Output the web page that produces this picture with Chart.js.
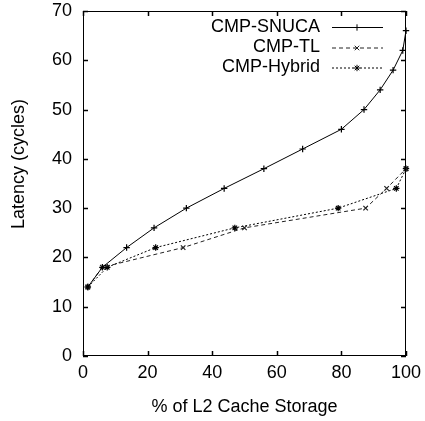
<!DOCTYPE html>
<html>
<head>
  <meta charset="utf-8">
  <title>L2 Cache Latency</title>
  <script src="https://cdn.jsdelivr.net/npm/chart.js"></script>
  <style>
    body { margin: 0; background: #fff; }
    #latencyChart { display: block; }
  </style>
</head>
<body>
  <canvas id="latencyChart" width="425" height="421"></canvas>

  <script>
    // values
    var snucaX = [1.5, 6, 13.5, 22, 32, 43.7, 56, 68, 80, 87, 92, 96, 99, 100];
    var snucaY = [14, 18, 22, 26, 30, 34, 38, 42, 46, 50, 54, 58, 62, 66];
    var tlX = [1.5, 6, 31, 50, 87.5, 94, 100];
    var tlY = [14, 18, 22, 26, 30, 34, 38];
    var hybridX = [1.5, 7.5, 22.5, 47, 79, 97, 100];
    var hybridY = [14, 18, 22, 26, 30, 34, 38];
    var seriesNames = ["CMP-SNUCA", "CMP-TL", "CMP-Hybrid"];
    var xTitle = "% of L2 Cache Storage";
    var yTitle = "Latency (cycles)";

    var FONT = "18px 'Liberation Sans', Arial, sans-serif";

    function pts(xs, ys) {
      return xs.map(function (x, i) { return { x: x, y: ys[i] }; });
    }

    function ds(label, data, dash, style, color) {
      return {
        label: label, data: data,
        borderColor: color, backgroundColor: color,
        borderWidth: 1, borderDash: dash,
        pointStyle: style, pointRadius: 3.2, pointBorderWidth: 1.2,
        pointBorderColor: color,
        tension: 0, clip: false, fill: false
      };
    }

    // gnuplot style frame, inward ticks, titles and key
    var gnuFrame = {
      id: "gnuFrame",
      afterDraw: function (chart) {
        var c = chart.ctx, a = chart.chartArea;
        var xs = chart.scales.x, ys = chart.scales.y;
        c.save();
        c.strokeStyle = "#000";
        c.lineWidth = 1;
        c.setLineDash([]);
        c.strokeRect(a.left + 0.5, a.top + 0.5, a.right - a.left - 1, a.bottom - a.top - 1);
        c.beginPath();
        c.lineWidth = 1.5;
        xs.ticks.forEach(function (t) {
          var px = Math.round(xs.getPixelForValue(t.value)) + 0.5;
          c.moveTo(px, a.bottom); c.lineTo(px, a.bottom - 5);
          c.moveTo(px, a.top); c.lineTo(px, a.top + 5);
        });
        ys.ticks.forEach(function (t) {
          var py = Math.round(ys.getPixelForValue(t.value)) + 0.5;
          c.moveTo(a.left, py); c.lineTo(a.left + 5, py);
          c.moveTo(a.right, py); c.lineTo(a.right - 5, py);
        });
        c.stroke();
        c.lineWidth = 1;

        // axis titles
        c.fillStyle = "#000";
        c.font = FONT;
        c.textAlign = "center";
        c.textBaseline = "middle";
        c.fillText(xTitle, (a.left + a.right) / 2, 407);
        c.save();
        c.translate(19, 164);
        c.rotate(-Math.PI / 2);
        c.fillText(yTitle, 0, 0);
        c.restore();

        // key
        var keyY = [27, 47.5, 67.5];
        chart.data.datasets.forEach(function (d, i) {
          var y = keyY[i];
          c.textAlign = "right";
          c.fillText(d.label, 320, y);
          c.beginPath();
          c.strokeStyle = d.borderColor;
          c.setLineDash(d.borderDash || []);
          c.moveTo(332, y + 0.5); c.lineTo(383, y + 0.5);
          c.stroke();
          c.setLineDash([]);
          Chart.helpers.drawPoint(c, {
            pointStyle: d.pointStyle, radius: d.pointRadius,
            borderWidth: d.pointBorderWidth, rotation: 0
          }, 357, y + 0.5);
        });
        c.restore();
      }
    };

    // keep tick label overhang from pushing the plot area inward
    function noOverhang(s) {
      s.paddingTop = 0; s.paddingBottom = 0;
      s.paddingLeft = 0; s.paddingRight = 0;
    }

    var ctx = document.getElementById("latencyChart").getContext("2d");
    var latencyChart = new Chart(ctx, {
      type: "line",
      data: {
        datasets: [
          ds(seriesNames[0], pts(snucaX, snucaY), [], "cross", "#000"),
          ds(seriesNames[1], pts(tlX, tlY), [4, 3], "crossRot", "#222"),
          ds(seriesNames[2], pts(hybridX, hybridY), [2, 2], "star", "#000")
        ]
      },
      options: {
        responsive: false,
        animation: false,
        layout: { padding: { left: 0, right: 19, top: 11, bottom: 0 } },
        plugins: { legend: { display: false }, tooltip: { enabled: false } },
        scales: {
          x: {
            type: "linear", min: 0, max: 100,
            grid: { display: false, drawTicks: false },
            border: { display: false },
            ticks: { stepSize: 20, padding: 6, color: "#000", font: { family: "'Liberation Sans', Arial, sans-serif", size: 18 } },
            afterFit: function (s) { s.height = 65; noOverhang(s); }
          },
          y: {
            type: "linear", min: 0, max: 70,
            grid: { display: false, drawTicks: false },
            border: { display: false },
            ticks: { stepSize: 10, padding: 11, color: "#000", font: { family: "'Liberation Sans', Arial, sans-serif", size: 18 } },
            afterFit: function (s) { s.width = 83; noOverhang(s); }
          }
        }
      },
      plugins: [gnuFrame]
    });
  </script>
</body>
</html>
